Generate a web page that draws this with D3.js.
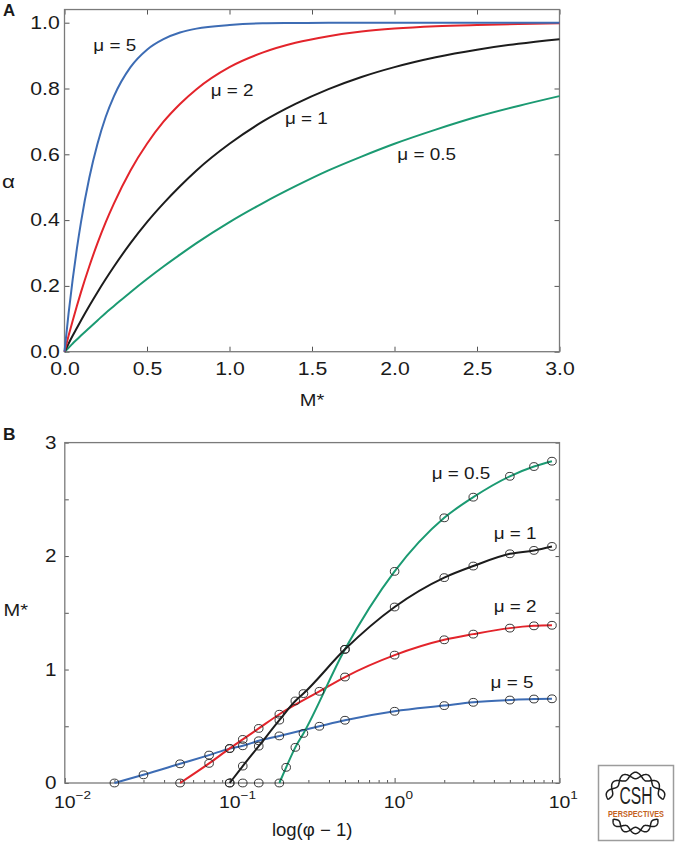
<!DOCTYPE html>
<html><head><meta charset="utf-8">
<script src="https://cdn.jsdelivr.net/npm/d3@7"></script>
<style>body{margin:0;background:#fff} svg{display:block}</style>
</head><body>
<script>
// ---------- Panel A data (alpha vs M*) ----------
const mStar = [0,0.025,0.05,0.075,0.1,0.15,0.2,0.25,0.3,0.4,0.5,0.6,0.7,0.8,1.0,1.2,1.4,1.6,1.8,2.0,2.25,2.5,2.75,3.0];
const alphaMu5  = [0,0.118,0.221,0.313,0.394,0.528,0.632,0.714,0.777,0.865,0.918,0.950,0.970,0.982,0.993,0.998,0.999,1.0,1.0,1.0,1.0,1.0,1.0,1.0];
const alphaMu2  = [0,0.049,0.095,0.139,0.181,0.259,0.330,0.394,0.451,0.551,0.632,0.699,0.753,0.798,0.865,0.909,0.939,0.959,0.973,0.982,0.989,0.993,0.996,0.998];
const alphaMu1  = [0,0.025,0.049,0.072,0.095,0.139,0.181,0.221,0.259,0.330,0.394,0.451,0.503,0.551,0.632,0.699,0.753,0.798,0.835,0.865,0.895,0.918,0.936,0.950];
const alphaMu05 = [0,0.012,0.025,0.037,0.049,0.072,0.095,0.118,0.139,0.181,0.221,0.259,0.295,0.330,0.394,0.451,0.503,0.551,0.593,0.632,0.675,0.714,0.747,0.777];
const labelsA = ["μ = 5","μ = 2","μ = 1","μ = 0.5"];
const xTicksA = [0,0.5,1.0,1.5,2.0,2.5,3.0];
const yTicksA = [0,0.2,0.4,0.6,0.8,1.0];

// ---------- Panel B data (M* vs phi-1) ----------
const phiMu5  = [0.02,0.03,0.05,0.075,0.1,0.12,0.15,0.2,0.35,0.5,1,2,3,5,7,9];
const mMu5    = [0,0.072,0.169,0.246,0.303,0.328,0.372,0.415,0.50,0.553,0.632,0.682,0.711,0.731,0.740,0.742];
const phiMu2  = [0.05,0.075,0.1,0.12,0.15,0.2,0.35,0.5,1,2,3,5,7,9];
const mMu2    = [0,0.173,0.305,0.384,0.481,0.606,0.808,0.934,1.127,1.262,1.312,1.365,1.385,1.390];
const phiMu1  = [0.1,0.12,0.15,0.2,0.25,0.28,0.5,1,2,3,5,7,9];
const mMu1    = [0,0.149,0.325,0.554,0.723,0.788,1.178,1.551,1.810,1.912,2.020,2.050,2.085];
const phiMu05 = [0.1,0.12,0.15,0.2,0.22,0.25,0.28,0.5,1,2,3,5,7,9];
const mMu05   = [0,0,0,0,0.138,0.314,0.437,1.178,1.865,2.337,2.519,2.703,2.789,2.836];
const labelsB = ["μ = 0.5","μ = 1","μ = 2","μ = 5"];
const xTicksB = [0.01,0.1,1,10];
const xTickExpB = ["−2","−1","0","1"];
const yTicksB = [0,0.5,1,1.5,2,2.5,3];

const colors = {mu5:"#3d6cb4", mu2:"#e3242b", mu1:"#1c1c1c", mu05:"#1b9a72"};

// ---------- setup ----------
const W = 678, H = 845;
const FONT = "'Liberation Sans', Arial, Helvetica, sans-serif";
const SX = 1.18;
const svg = d3.select("body").append("svg").attr("width", W).attr("height", H);

function txt(g, x, y, s, size, anchor, opts = {}) {
  const t = g.append("text")
    .attr("transform", `translate(${x},${y}) scale(${opts.sx || SX},1)`)
    .attr("font-family", opts.family || FONT)
    .attr("font-size", size)
    .attr("text-anchor", anchor || "start")
    .attr("fill", opts.fill || "#1a1a1a")
    .text(s);
  if (opts.bold) t.attr("font-weight", "bold");
  return t;
}
function styleAxis(g, size) {
  g.select(".domain").remove();
  g.selectAll(".tick line").attr("stroke", "#555").attr("stroke-width", 1);
  g.selectAll(".tick text").attr("font-family", FONT).attr("font-size", size)
    .attr("fill", "#1a1a1a").attr("transform", `scale(${SX},1)`);
}

// ---------- Panel A ----------
const xA = d3.scaleLinear().domain([0, 3]).range([64.5, 559.5]);
const yA = d3.scaleLinear().domain([0, 1]).range([351.7, 22.7]);
const gA = svg.append("g");

gA.append("g").attr("transform", `translate(0,${yA(0)})`)
  .call(d3.axisBottom(xA).tickValues(xTicksA).tickSizeInner(-5).tickSizeOuter(0).tickPadding(11).tickFormat(d3.format(".1f")))
  .call(g => styleAxis(g, 18));
gA.append("g").attr("transform", `translate(${xA(0)},0)`)
  .call(d3.axisLeft(yA).tickValues(yTicksA).tickSizeInner(-5).tickSizeOuter(0).tickPadding(4).tickFormat(d3.format(".1f")))
  .call(g => styleAxis(g, 18));
gA.append("g").attr("transform", `translate(0,${yA(1.04)})`)
  .call(d3.axisTop(xA).tickValues(xTicksA).tickSizeInner(-5).tickSizeOuter(0).tickFormat(""))
  .call(g => styleAxis(g, 18));
gA.append("g").attr("transform", `translate(${xA(3)},0)`)
  .call(d3.axisRight(yA).tickValues(yTicksA).tickSizeInner(-5).tickSizeOuter(0).tickFormat(""))
  .call(g => styleAxis(g, 18));

gA.append("rect").attr("x", xA(0)).attr("y", yA(1.04))
  .attr("width", xA(3) - xA(0)).attr("height", yA(0) - yA(1.04))
  .attr("fill", "none").attr("stroke", "#7a7a7a").attr("stroke-width", 1.3);

const lineA = d3.line().x(d => xA(d[0])).y(d => yA(d[1])).curve(d3.curveMonotoneX);
[[alphaMu05, colors.mu05], [alphaMu1, colors.mu1], [alphaMu2, colors.mu2], [alphaMu5, colors.mu5]].forEach(([vals, c]) => {
  gA.append("path").datum(mStar.map((m, i) => [m, vals[i]]))
    .attr("d", lineA).attr("fill", "none").attr("stroke", c).attr("stroke-width", 2);
});

txt(gA, 93.3, 51, labelsA[0], 16, "start");
txt(gA, 210.7, 96, labelsA[1], 16, "start");
txt(gA, 285, 124, labelsA[2], 16, "start");
txt(gA, 397.3, 160, labelsA[3], 16, "start");

txt(gA, 3, 15.5, "A", 16, "start", {bold: true, sx: 1.05});
txt(gA, 8.5, 188, "α", 19, "middle");
txt(gA, (xA(0) + xA(3)) / 2, 406, "M*", 17, "middle");

// ---------- Panel B ----------
const xB = d3.scaleLog().domain([0.01, 10]).range([64.8, 559.5]);
const yB = d3.scaleLinear().domain([0, 3]).range([783, 442.6]);
const gB = svg.append("g");

const minorB = [];
[0.01, 0.1, 1].forEach(d => { for (let k = 2; k <= 9; k++) minorB.push(d * k); });

gB.append("g").attr("transform", `translate(0,${yB(0)})`)
  .call(d3.axisBottom(xB).tickValues(minorB).tickSizeInner(-3).tickSizeOuter(0).tickFormat(""))
  .call(g => styleAxis(g, 17.5));
gB.append("g").attr("transform", `translate(0,${yB(0)})`)
  .call(d3.axisBottom(xB).tickValues(xTicksB).tickSizeInner(-5).tickSizeOuter(0).tickFormat(""))
  .call(g => styleAxis(g, 17.5));
gB.append("g").attr("transform", `translate(${xB(0.01)},0)`)
  .call(d3.axisLeft(yB).tickValues(yTicksB).tickSizeInner(-4).tickSizeOuter(0).tickPadding(7)
    .tickFormat(d => Number.isInteger(d) ? String(d) : ""))
  .call(g => styleAxis(g, 17.5));
gB.append("g").attr("transform", `translate(${xB(10)},0)`)
  .call(d3.axisRight(yB).tickValues(yTicksB).tickSizeInner(-4).tickSizeOuter(0).tickFormat(""))
  .call(g => styleAxis(g, 17.5));

gB.append("rect").attr("x", xB(0.01)).attr("y", yB(3))
  .attr("width", xB(10) - xB(0.01)).attr("height", yB(0) - yB(3))
  .attr("fill", "none").attr("stroke", "#7a7a7a").attr("stroke-width", 1.3);

// x tick labels 10^n
xTicksB.forEach((v, i) => {
  const x = xB(v);
  txt(gB, x, 808, "10", 16.5, "middle");
  txt(gB, x + 10.8, 799, xTickExpB[i], 11.5, "start");
});

const seriesB = [
  {x: phiMu5, y: mMu5, c: colors.mu5},
  {x: phiMu2, y: mMu2, c: colors.mu2},
  {x: phiMu05, y: mMu05, c: colors.mu05},
  {x: phiMu1, y: mMu1, c: colors.mu1}
];
const lineB = d3.line().x(d => xB(d[0])).y(d => yB(d[1])).curve(d3.curveMonotoneX);
seriesB.forEach(s => {
  const pts = s.x.map((v, i) => [v, s.y[i]]);
  let start = 0;
  pts.forEach((p, i) => { if (p[1] === 0) start = i; });
  gB.append("path").datum(pts.slice(start)).attr("d", lineB)
    .attr("fill", "none").attr("stroke", s.c).attr("stroke-width", 2);
});
seriesB.forEach(s => {
  gB.selectAll(null).data(s.x.map((v, i) => [v, s.y[i]])).enter().append("ellipse")
    .attr("cx", d => xB(d[0])).attr("cy", d => yB(d[1]))
    .attr("rx", 4.3).attr("ry", 3.9)
    .attr("fill", "none").attr("stroke", "#222").attr("stroke-width", 0.9);
});

txt(gB, 431.7, 479, labelsB[0], 16, "start");
txt(gB, 493.7, 539, labelsB[1], 16, "start");
txt(gB, 493.7, 611.5, labelsB[2], 16, "start");
txt(gB, 490.6, 688, labelsB[3], 16, "start");

txt(gB, 3, 440, "B", 16.5, "start", {bold: true, sx: 1.05});
txt(gB, 3.5, 616, "M*", 17, "start");
txt(gB, (xB(0.01) + xB(10)) / 2, 836, "log(φ − 1)", 17.5, "middle", {sx: 1.06});

// ---------- CSH Perspectives logo ----------
const gL = svg.append("g").attr("transform", "translate(598.5,765.5)");
gL.append("rect").attr("x", 0).attr("y", 0).attr("width", 75).attr("height", 75)
  .attr("fill", "#fff").attr("stroke", "#9c9c9c").attr("stroke-width", 1.5);
const cx = 37, cy = 37.5, R = 27.5;
function strand(t0, t1, halves, sgn) {
  const k = halves * Math.PI / (t1 - t0);
  const pts = d3.range(0, 121).map(i => {
    const th = t0 + (t1 - t0) * i / 120;
    const r = R + sgn * 3.2 * Math.sin(k * (th - t0));
    return [cx + r * Math.cos(th), cy + r * Math.sin(th)];
  });
  return d3.line()(pts);
}
[[Math.PI * 1.04, Math.PI * 1.96, 7], [Math.PI * 0.2, Math.PI * 0.8, 5]].forEach(([a, b, n]) => {
  [1, -1].forEach(sg => gL.append("path").attr("d", strand(a, b, n, sg))
    .attr("fill", "none").attr("stroke", "#1e1e1e").attr("stroke-width", 1.5));
});
gL.append("text").attr("x", 37.5).attr("y", 38).attr("text-anchor", "middle")
  .attr("font-family", FONT).attr("font-size", 23).attr("fill", "#222")
  .attr("textLength", 33).attr("lengthAdjust", "spacingAndGlyphs").text("CSH");
gL.append("text").attr("x", 37.5).attr("y", 51).attr("text-anchor", "middle")
  .attr("font-family", FONT).attr("font-size", 9).attr("font-weight", "bold").attr("fill", "#c4621c")
  .attr("textLength", 56).attr("lengthAdjust", "spacingAndGlyphs").text("PERSPECTIVES");
</script>
</body></html>
